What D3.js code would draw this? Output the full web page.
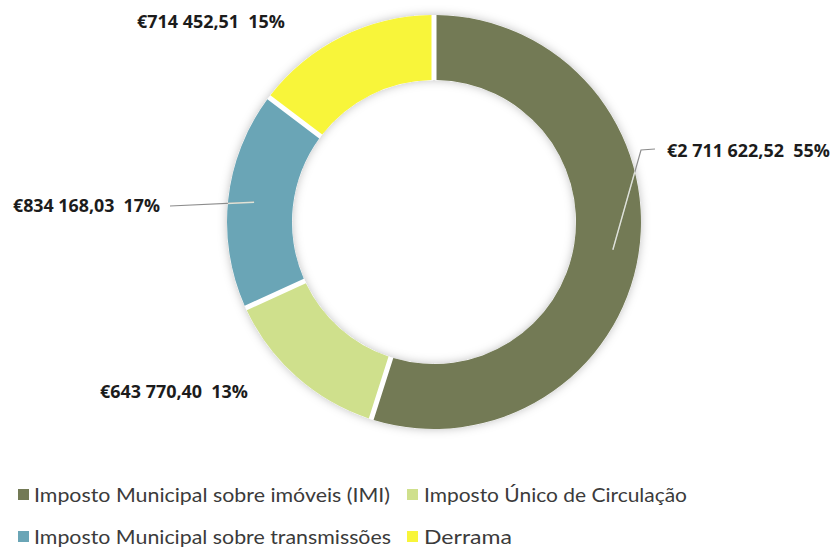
<!DOCTYPE html>
<html>
<head>
<meta charset="utf-8">
<script src="https://cdn.jsdelivr.net/npm/d3@7"></script>
<style>
  body { margin: 0; background: #fff; }
  svg { display: block; }
</style>
</head>
<body>
<div id="chart"></div>
<script>
// receitas fiscais, por imposto
var categories = [
    'Imposto Municipal sobre imóveis (IMI)',
    'Imposto Único de Circulação',
    'Imposto Municipal sobre transmissões',
    'Derrama'
];
var values = [2711622.52, 643770.40, 834168.03, 714452.51];
var colors = ['#737a55', '#cfe08c', '#6aa5b6', '#f8f53a'];

var width = 833, height = 548;
var cx = 434, cy = 222;
var outerR = 207, innerR = 142;

var pt = d3.formatLocale({
    decimal: ',',
    thousands: '\u00a0',
    grouping: [3],
    currency: ['€', '']
});
var money = pt.format('$,.2f');
var total = d3.sum(values);

var svg = d3.select('#chart')
    .append('svg')
    .attr('width', width)
    .attr('height', height);

var defs = svg.append('defs');
defs.append('filter')
    .attr('id', 'glow')
    .attr('x', '-20%').attr('y', '-20%')
    .attr('width', '140%').attr('height', '140%')
    .append('feDropShadow')
    .attr('dx', 0).attr('dy', 0)
    .attr('stdDeviation', 5)
    .attr('flood-color', '#000')
    .attr('flood-opacity', 0.25);

var pie = d3.pie().sort(null).padAngle(0.02);
var arcs = pie(values);

var arc = d3.arc().innerRadius(innerR).outerRadius(outerR);
var pointArc = d3.arc().innerRadius(181).outerRadius(181);

var ring = svg.append('g')
    .attr('transform', 'translate(' + cx + ',' + cy + ')');

// white annulus carries the soft shadow, gaps stay white
ring.append('path')
    .attr('d', d3.arc().innerRadius(innerR).outerRadius(outerR)
        .startAngle(0).endAngle(2 * Math.PI)())
    .style('fill', '#fff')
    .attr('filter', 'url(#glow)');

ring.append('g')
    .selectAll('path')
    .data(arcs)
    .enter()
    .append('path')
    .attr('d', arc)
    .style('fill', function(d, i) { return colors[i]; });

// clip so the part of a leader line on the ring is lighter
defs.append('clipPath')
    .attr('id', 'ringclip')
    .selectAll('path')
    .data(arcs)
    .enter()
    .append('path')
    .attr('transform', 'translate(' + cx + ',' + cy + ')')
    .attr('d', arc);

// label placement (Excel-style, set by hand)
var labelBox = [
    { x: 667, y: 157, w: 163, bend: [641, 150] },
    { x: 100, y: 398, w: 148 },
    { x: 13,  y: 212, w: 147, line: true },
    { x: 137, y: 28,  w: 148 }
];

function leader(i) {
    var c = pointArc.centroid(arcs[i]);
    var end = [cx + c[0], cy + c[1]];
    var b = labelBox[i];
    if (b.bend) return [[b.x - 12, b.y - 8], b.bend, end];
    if (b.line) return [[b.x + b.w + 10, b.y - 6], end];
    return null;
}

var leaders = d3.range(values.length).map(leader).filter(function(d) { return d; });
var lineGen = d3.line();

svg.append('g').selectAll('path')
    .data(leaders)
    .enter()
    .append('path')
    .attr('d', lineGen)
    .style('fill', 'none')
    .style('stroke', '#8c8c8c')
    .style('stroke-width', 1.2);

svg.append('g')
    .attr('clip-path', 'url(#ringclip)')
    .selectAll('path')
    .data(leaders)
    .enter()
    .append('path')
    .attr('d', lineGen)
    .style('fill', 'none')
    .style('stroke', '#dfe3d8')
    .style('stroke-width', 1.4);

svg.append('g').selectAll('text')
    .data(arcs)
    .enter()
    .append('text')
    .attr('x', function(d, i) { return labelBox[i].x; })
    .attr('y', function(d, i) { return labelBox[i].y; })
    .attr('textLength', function(d, i) { return labelBox[i].w; })
    .attr('lengthAdjust', 'spacingAndGlyphs')
    .style('font-family', '"Open Sans", "DejaVu Sans", sans-serif')
    .style('font-size', '18px')
    .style('font-weight', 'bold')
    .style('fill', '#1c1c1c')
    .text(function(d) {
        return money(d.value) + '\u00a0\u00a0' + Math.round(d.value / total * 100) + '%';
    });

// legend, 2 x 2
var legendX = [18, 407], textX = [34, 424], rowY = [502, 544];
var legendW = [356, 263, 357, 88];

var legend = svg.append('g').selectAll('g')
    .data(categories)
    .enter()
    .append('g');

legend.append('rect')
    .attr('x', function(d, i) { return legendX[i % 2]; })
    .attr('y', function(d, i) { return rowY[Math.floor(i / 2)] - 13; })
    .attr('width', 11)
    .attr('height', 11)
    .style('fill', function(d, i) { return colors[i]; });

legend.append('text')
    .attr('x', function(d, i) { return textX[i % 2]; })
    .attr('y', function(d, i) { return rowY[Math.floor(i / 2)]; })
    .attr('textLength', function(d, i) { return legendW[i]; })
    .attr('lengthAdjust', 'spacingAndGlyphs')
    .style('font-family', 'Lato, "Open Sans", sans-serif')
    .style('font-size', '20px')
    .style('fill', '#3b3b3b')
    .text(function(d) { return d; });
</script>
</body>
</html>
